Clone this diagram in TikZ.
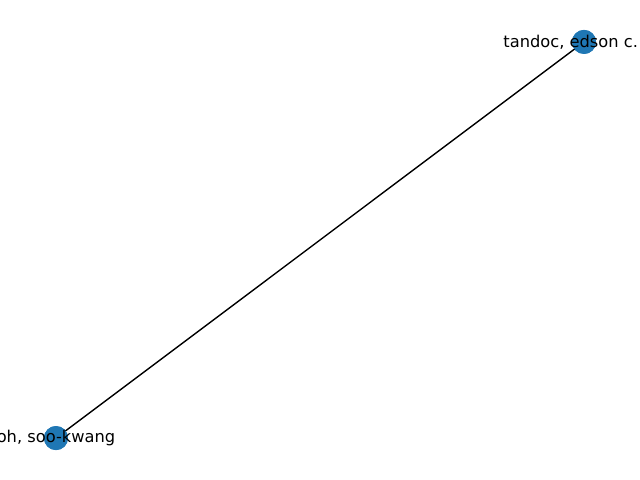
\documentclass[tikz,border=0pt]{standalone}
\usepackage{fontspec}
\setmainfont{DejaVu Sans}
\usepackage{xcolor}
\definecolor{nodeblue}{HTML}{1F77B4}
\usetikzlibrary{positioning}

\begin{document}
\begin{tikzpicture}[x=1pt,y=1pt,
	vertex/.style={circle,fill=nodeblue,draw=none,minimum size=17.3pt,inner sep=0pt},
	authorlabel/.style={font=\fontsize{11.7}{14}\selectfont,inner sep=0pt,text=black},
	link/.style={draw=black,line width=1pt}]
	\useasboundingbox (0,0) rectangle (460.8,345.6);
	\clip (0,0) rectangle (460.8,345.6);
	% authors
	\node[vertex] (tandoc) at (420.5,315.4) {};
	\node[vertex] (oh) at (40.3,30.2) {};
	\draw[link] (tandoc.center) -- (oh.center);
	\node[vertex] at (tandoc) {};
	\node[vertex] at (oh) {};
	\node[authorlabel,anchor=east] (tandoclbl) at ([xshift=39pt]tandoc.center) {tandoc, edson c.};
	\node[authorlabel] (ohlbl) at (oh) {oh, soo-kwang};
\end{tikzpicture}
\end{document}
